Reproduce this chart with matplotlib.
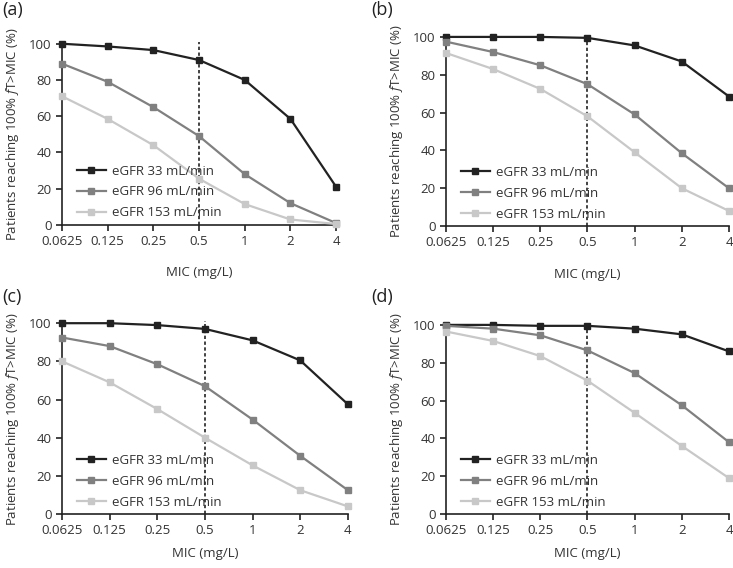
import matplotlib.pyplot as plt

plt.rcParams['font.family'] = ['Open Sans', 'DejaVu Sans']
plt.rcParams['mathtext.fontset'] = 'custom'
plt.rcParams['mathtext.it'] = 'Open Sans:italic'
plt.rcParams['mathtext.rm'] = 'Open Sans'

# MIC categories (mg/L)
mic_labels = ['0.0625', '0.125', '0.25', '0.5', '1', '2', '4']
series_names = ['eGFR 33 mL/min', 'eGFR 96 mL/min', 'eGFR 153 mL/min']

# Percent of patients reaching 100% fT>MIC, per panel
a_33 = [100, 98.5, 96.5, 91, 80, 58.5, 21]
a_96 = [89, 79, 65, 49, 28, 12, 1]
a_153 = [71, 58.5, 44, 25.5, 11.5, 3, 0.5]

b_33 = [100, 100, 100, 99.5, 95.5, 87, 68.5]
b_96 = [97.5, 92, 85, 75, 59, 38.5, 20]
b_153 = [91.5, 83, 72.5, 58, 39, 20, 8]

c_33 = [100, 100, 99, 97, 91, 80.5, 57.5]
c_96 = [92.5, 88, 78.5, 67, 49.5, 30.5, 12.5]
c_153 = [80, 69, 55, 40, 25.5, 12.5, 4]

d_33 = [100, 100, 99.5, 99.5, 98, 95, 86]
d_96 = [99.5, 98, 94.5, 86.5, 74.5, 57.5, 38]
d_153 = [96.5, 91.5, 83.5, 70.5, 53.5, 36, 19]

panels = [('(a)', [a_33, a_96, a_153]),
          ('(b)', [b_33, b_96, b_153]),
          ('(c)', [c_33, c_96, c_153]),
          ('(d)', [d_33, d_96, d_153])]

colors = ['#222222', '#808080', '#c8c8c8']

boxes = [[0.0846, 0.604, 0.374, 0.319],
         [0.6085, 0.602, 0.386, 0.333],
         [0.0846, 0.095, 0.390, 0.336],
         [0.6085, 0.095, 0.386, 0.333]]
label_pos = [(0.003, 0.998), (0.507, 0.998), (0.003, 0.493), (0.507, 0.493)]
xpads = [13, 13, 7, 7]

fig = plt.figure(figsize=(7.33, 5.68), dpi=100)
x = list(range(len(mic_labels)))
fs = 9.5

for (tag, data), box, lp, xp in zip(panels, boxes, label_pos, xpads):
    ax = fig.add_axes(box)
    for vals, name, col in zip(data, series_names, colors):
        ax.plot(x, vals, color=col, lw=1.6, marker='s', markersize=4.5,
                label=name, clip_on=False, zorder=3)
    ax.vlines(3, 0, 101, colors='#222222', linestyles=(0, (2, 1.5)), lw=1.2,
              clip_on=False, zorder=2)
    ax.set_xlim(0, 6)
    ax.set_ylim(0, 100)
    ax.set_xticks(x)
    ax.set_xticklabels(mic_labels)
    ax.set_yticks([0, 20, 40, 60, 80, 100])
    for s in ['top', 'right']:
        ax.spines[s].set_visible(False)
    for s in ['left', 'bottom']:
        ax.spines[s].set_color('#222222')
        ax.spines[s].set_linewidth(1.2)
    ax.tick_params(axis='both', labelsize=fs, colors='#222222', length=4,
                   width=1.2, labelcolor='#333333')
    ax.set_xlabel('MIC (mg/L)', fontsize=fs, labelpad=xp, color='#333333')
    ax.set_ylabel('Patients reaching 100% $\\it{f}$T>MIC (%)', fontsize=fs,
                  labelpad=6, color='#333333')
    ax.legend(loc='lower left', bbox_to_anchor=(0.01, -0.035), frameon=False,
              fontsize=fs, handlelength=2.2, handletextpad=0.5,
              labelspacing=0.6, labelcolor='#333333')
    fig.text(lp[0], lp[1], tag, fontsize=13, va='top', ha='left', color='#222222')

fig.savefig('out.png', dpi=100)
